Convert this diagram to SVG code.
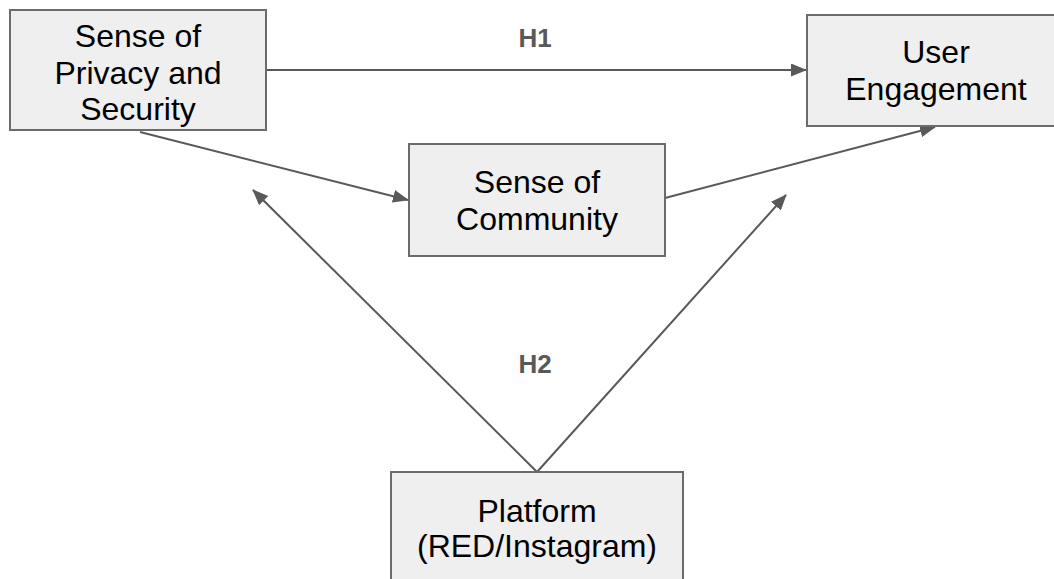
<svg xmlns="http://www.w3.org/2000/svg" width="1054" height="579" viewBox="0 0 1054 579">
  <style>
    .box { fill: #efefef; stroke: #6b6b6b; stroke-width: 2; }
    .lbl { font-family: "Liberation Sans", Arial, sans-serif; font-size: 32px; fill: #000; text-anchor: middle; }
    .hyp { font-family: "Liberation Sans", Arial, sans-serif; font-size: 26px; font-weight: bold; fill: #595959; text-anchor: middle; }
    .edge { stroke: #595959; stroke-width: 2; fill: none; marker-end: url(#arrow); }
  </style>
  <defs>
    <marker id="arrow" markerUnits="userSpaceOnUse" markerWidth="18" markerHeight="15" refX="15" refY="6.5" orient="auto">
      <path d="M0,0 L16,6.5 L0,13 z" fill="#595959"/>
    </marker>
  </defs>
  <rect width="1054" height="579" fill="#fff"/>

  <g id="connectors">
    <line class="edge" x1="266" y1="70" x2="806" y2="70"/>
    <line class="edge" x1="140" y1="132" x2="408" y2="200"/>
    <line class="edge" x1="665" y1="198" x2="935" y2="127"/>
    <line class="edge" x1="537" y1="472" x2="253" y2="190"/>
    <line class="edge" x1="537" y1="472" x2="786" y2="195"/>
  </g>

  <g id="privacy">
    <rect class="box" x="10" y="10" width="256" height="120"/>
    <text class="lbl" x="138" y="47">Sense of</text>
    <text class="lbl" x="138" y="84">Privacy and</text>
    <text class="lbl" x="138" y="120">Security</text>
  </g>

  <g id="engagement">
    <rect class="box" x="807" y="15" width="260" height="111"/>
    <text class="lbl" x="936" y="63">User</text>
    <text class="lbl" x="936" y="100">Engagement</text>
  </g>

  <g id="community">
    <rect class="box" x="409" y="144" width="256" height="112"/>
    <text class="lbl" x="537" y="193">Sense of</text>
    <text class="lbl" x="537" y="230">Community</text>
  </g>

  <g id="platform">
    <rect class="box" x="391" y="472" width="292" height="120"/>
    <text class="lbl" x="537" y="522">Platform</text>
    <text class="lbl" x="537" y="557">(RED/Instagram)</text>
  </g>

  <g id="hypotheses">
    <text class="hyp" x="535" y="47">H1</text>
    <text class="hyp" x="535" y="373">H2</text>
  </g>
</svg>
